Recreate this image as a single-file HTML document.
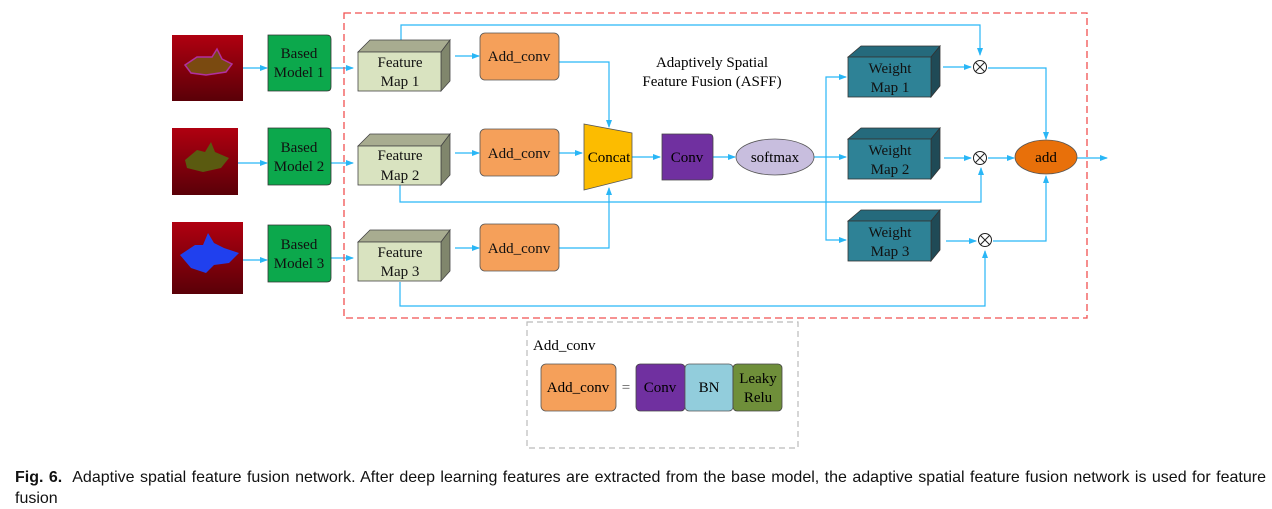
<!DOCTYPE html>
<html><head><meta charset="utf-8"><style>
body{margin:0;background:#fff;width:1272px;height:509px;overflow:hidden;position:relative;font-family:"Liberation Serif",serif}
.cap{position:absolute;left:15px;top:467px;width:1251px;font-family:"Liberation Sans",sans-serif;font-size:16px;line-height:21px;text-align:justify;color:#111}
</style></head><body>
<svg width="1272" height="509" style="position:absolute;left:0;top:0" font-family="Liberation Serif, serif">
<defs>
<marker id="a" markerWidth="8" markerHeight="8" refX="7" refY="4" orient="auto" markerUnits="userSpaceOnUse"><path d="M0,1 L8,4 L0,7 Z" fill="#29b6f6"/></marker>
<linearGradient id="r1" x1="0" y1="0" x2="0" y2="1"><stop offset="0" stop-color="#b00010"/><stop offset="1" stop-color="#5a0008"/></linearGradient>
</defs>
<rect x="172" y="35" width="71" height="66" fill="url(#r1)"/>
<path d="M185,65 l12,-8 l15,0 l5,-8 l5,10 l10,5 l-6,8 l-20,3 l-15,-2 z" fill="#7a4a10" stroke="#b030a0" stroke-width="1.5"/>
<rect x="172" y="128" width="66" height="67" fill="url(#r1)"/>
<path d="M185,160 l12,-10 l8,2 l6,-10 l4,10 l14,6 l-8,10 l-18,4 l-16,-4 z" fill="#5a5a10"/>
<rect x="172" y="222" width="71" height="72" fill="url(#r1)"/>
<path d="M180,255 l15,-10 l8,0 l5,-12 l6,10 l10,5 l15,5 l-10,10 l-15,2 l-8,8 l-15,-5 z" fill="#2040ee"/>
<g stroke="#29b6f6" stroke-width="1.2" fill="none" marker-end="url(#a)">
<line x1="243" y1="68" x2="267" y2="68"/><line x1="238" y1="163" x2="267" y2="163"/><line x1="243" y1="260" x2="267" y2="260"/>
<line x1="331" y1="68" x2="353" y2="68"/><line x1="331" y1="163" x2="353" y2="163"/><line x1="331" y1="258" x2="353" y2="258"/>
<line x1="455" y1="56" x2="479" y2="56"/><line x1="455" y1="153" x2="479" y2="153"/><line x1="455" y1="248" x2="479" y2="248"/>
<polyline points="559,62 609,62 609,127"/><line x1="559" y1="153" x2="582" y2="153"/><polyline points="559,248 609,248 609,188"/>
<line x1="632" y1="157" x2="660" y2="157"/><line x1="713" y1="157" x2="735" y2="157"/>
<line x1="814" y1="157" x2="846" y2="157"/><polyline points="826,157 826,77 846,77"/><polyline points="826,157 826,240 846,240"/>
<polyline points="401,40 401,25 980,25 980,55"/><polyline points="400,185 400,202 981,202 981,168"/><polyline points="400,282 400,306 985,306 985,251"/>
<line x1="943" y1="67" x2="971" y2="67"/><line x1="944" y1="158" x2="971" y2="158"/><line x1="946" y1="241" x2="976" y2="241"/>
<polyline points="988,68 1046,68 1046,139"/><line x1="988" y1="158" x2="1014" y2="158"/><polyline points="993,241 1046,241 1046,176"/>
<line x1="1077" y1="158" x2="1107" y2="158"/>
</g>
<rect x="344" y="13" width="743" height="305" fill="none" stroke="#f05050" stroke-width="1.3" stroke-dasharray="7,4"/>
<g fill="#0ca84c" stroke="#333" stroke-width="0.8">
<path d="M268,35 h59 q4,0 4,4 v48 q0,4 -4,4 h-59 z"/>
<path d="M268,128 h59 q4,0 4,4 v49 q0,4 -4,4 h-59 z"/>
<path d="M268,225 h59 q4,0 4,4 v49 q0,4 -4,4 h-59 z"/>
</g>
<g font-size="15" text-anchor="middle" fill="#111">
<text x="299" y="58">Based</text><text x="299" y="77">Model 1</text>
<text x="299" y="152">Based</text><text x="299" y="171">Model 2</text>
<text x="299" y="249">Based</text><text x="299" y="268">Model 3</text>
</g>
<g stroke="#444" stroke-width="0.8">
<g><polygon points="358,52 370,40 450,40 441,52" fill="#a8ac90"/><polygon points="441,52 450,40 450,81 441,91" fill="#80866c"/><rect x="358" y="52" width="83" height="39" fill="#d9e3c0"/></g>
<g transform="translate(0,94)"><polygon points="358,52 370,40 450,40 441,52" fill="#a8ac90"/><polygon points="441,52 450,40 450,81 441,91" fill="#80866c"/><rect x="358" y="52" width="83" height="39" fill="#d9e3c0"/></g>
<g transform="translate(0,190)"><polygon points="358,52 370,40 450,40 441,52" fill="#a8ac90"/><polygon points="441,52 450,40 450,81 441,91" fill="#80866c"/><rect x="358" y="52" width="83" height="39" fill="#d9e3c0"/></g>
</g>
<g font-size="15" text-anchor="middle" fill="#111">
<text x="400" y="67">Feature</text><text x="400" y="86">Map 1</text>
<text x="400" y="160">Feature</text><text x="400" y="180">Map 2</text>
<text x="400" y="257">Feature</text><text x="400" y="276">Map 3</text>
</g>
<g fill="#f5a05a" stroke="#555" stroke-width="0.8">
<rect x="480" y="33" width="79" height="47" rx="5"/><rect x="480" y="129" width="79" height="47" rx="5"/><rect x="480" y="224" width="79" height="47" rx="5"/>
</g>
<g font-size="15" text-anchor="middle" fill="#111">
<text x="519" y="61">Add_conv</text><text x="519" y="158">Add_conv</text><text x="519" y="253">Add_conv</text>
</g>
<polygon points="584,124 632,133 632,178 584,190" fill="#fcbc00" stroke="#555" stroke-width="0.8"/>
<text x="609" y="162" font-size="15" text-anchor="middle">Concat</text>
<path d="M662,134 h47 q4,0 4,4 v38 q0,4 -4,4 h-47 z" fill="#7030a0" stroke="#444" stroke-width="0.8"/>
<text x="687" y="162" font-size="15" text-anchor="middle">Conv</text>
<ellipse cx="775" cy="157" rx="39" ry="18" fill="#c8bede" stroke="#555" stroke-width="0.8"/>
<text x="775" y="162" font-size="15" text-anchor="middle">softmax</text>
<text x="712" y="67" font-size="15" text-anchor="middle">Adaptively Spatial</text>
<text x="712" y="86" font-size="15" text-anchor="middle">Feature Fusion (ASFF)</text>
<g stroke="#333" stroke-width="0.8">
<g><polygon points="848,57 861,46 940,46 931,57" fill="#256a7c"/><polygon points="931,57 940,46 940,86 931,97" fill="#1f4a56"/><rect x="848" y="57" width="83" height="40" fill="#2e8296"/></g>
<g transform="translate(0,82)"><polygon points="848,57 861,46 940,46 931,57" fill="#256a7c"/><polygon points="931,57 940,46 940,86 931,97" fill="#1f4a56"/><rect x="848" y="57" width="83" height="40" fill="#2e8296"/></g>
<g transform="translate(0,164)"><polygon points="848,57 861,46 940,46 931,57" fill="#256a7c"/><polygon points="931,57 940,46 940,86 931,97" fill="#1f4a56"/><rect x="848" y="57" width="83" height="40" fill="#2e8296"/></g>
</g>
<g font-size="15" text-anchor="middle" fill="#111">
<text x="890" y="73">Weight</text><text x="890" y="92">Map 1</text>
<text x="890" y="155">Weight</text><text x="890" y="174">Map 2</text>
<text x="890" y="237">Weight</text><text x="890" y="256">Map 3</text>
</g>
<g stroke="#222" stroke-width="1" fill="#fff">
<circle cx="980" cy="67" r="6.5"/><path d="M975.4,62.4 l9.2,9.2 M984.6,62.4 l-9.2,9.2"/>
<circle cx="980" cy="158" r="6.5"/><path d="M975.4,153.4 l9.2,9.2 M984.6,153.4 l-9.2,9.2"/>
<circle cx="985" cy="240" r="6.5"/><path d="M980.4,235.4 l9.2,9.2 M989.6,235.4 l-9.2,9.2"/>
</g>
<ellipse cx="1046" cy="157" rx="31" ry="17" fill="#e8700a" stroke="#555" stroke-width="0.8"/>
<text x="1046" y="162" font-size="15" text-anchor="middle">add</text>
<rect x="527" y="322" width="271" height="126" fill="none" stroke="#bbb" stroke-width="1.2" stroke-dasharray="6,4"/>
<text x="533" y="350" font-size="15">Add_conv</text>
<rect x="541" y="364" width="75" height="47" rx="5" fill="#f5a05a" stroke="#555" stroke-width="0.8"/>
<text x="578" y="392" font-size="15" text-anchor="middle">Add_conv</text>
<text x="626" y="392" font-size="15" text-anchor="middle" fill="#555">=</text>
<rect x="636" y="364" width="49" height="47" rx="4" fill="#7030a0" stroke="#444" stroke-width="0.8"/>
<text x="660" y="392" font-size="15" text-anchor="middle">Conv</text>
<rect x="685" y="364" width="48" height="47" rx="4" fill="#92cddc" stroke="#555" stroke-width="0.8"/>
<text x="709" y="392" font-size="15" text-anchor="middle">BN</text>
<rect x="733" y="364" width="49" height="47" rx="4" fill="#6f8f3a" stroke="#444" stroke-width="0.8"/>
<text x="758" y="383" font-size="15" text-anchor="middle">Leaky</text>
<text x="758" y="402" font-size="15" text-anchor="middle">Relu</text>
</svg>
<div class="cap"><b>Fig. 6.</b>&nbsp; Adaptive spatial feature fusion network. After deep learning features are extracted from the base model, the adaptive spatial feature fusion network is used for feature fusion</div>
</body></html>
